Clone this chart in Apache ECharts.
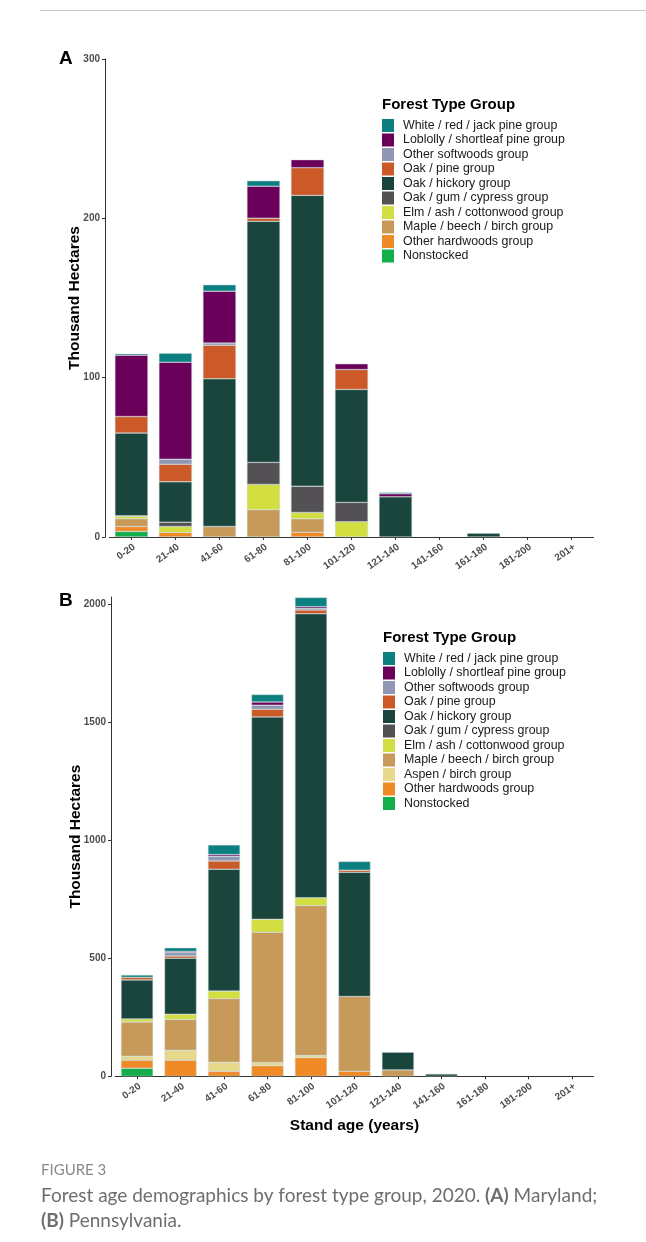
<!DOCTYPE html>
<html><head><meta charset="utf-8">
<script src="https://cdn.jsdelivr.net/npm/echarts@6/dist/echarts.min.js"></script>
<style>html,body{margin:0;padding:0;background:#fff}#c{width:646px;height:1242px}</style>
</head><body><div id="c"></div>
<script>
// ---------- DATA ----------
const categories = ['0-20','21-40','41-60','61-80','81-100','101-120','121-140','141-160','161-180','181-200','201+'];
const yTicksA = [0, 100, 200, 300];
const yTicksB = [0, 500, 1000, 1500, 2000];

// stacking order, bottom to top
const groupNames = [
  'Nonstocked',
  'Other hardwoods group',
  'Aspen / birch group',
  'Maple / beech / birch group',
  'Elm / ash / cottonwood group',
  'Oak / gum / cypress group',
  'Oak / hickory group',
  'Oak / pine group',
  'Other softwoods group',
  'Loblolly / shortleaf pine group',
  'White / red / jack pine group'
];

// (A) Maryland, thousand hectares
const mdNonstocked      = [3.5, 0,    0,    0,     0,     0,    0,    0, 0,   0, 0];
const mdOtherHardwoods  = [3.1, 2.8,  0,    0,     3.0,   0,    0,    0, 0,   0, 0];
const mdAspen           = [0,   0,    0,    0,     0,     0,    0,    0, 0,   0, 0];
const mdMaple           = [4.8, 0,    6.6,  17.1,  8.4,   0,    0,    0, 0,   0, 0];
const mdElm             = [1.7, 3.8,  0,    15.9,  4.0,   9.5,  0,    0, 0,   0, 0];
const mdOakGum          = [0.3, 2.7,  0,    13.8,  16.5,  12.2, 0,    0, 0,   0, 0];
const mdOakHickory      = [51.8,25.3, 92.7, 151.3, 182.5, 70.9, 25.2, 0, 2.4, 0, 0];
const mdOakPine         = [10.4,11.1, 21.1, 2.0,   17.4,  12.5, 0,    0, 0,   0, 0];
const mdOtherSoftwoods  = [0,   3.1,  1.3,  0,     0,     0,    0,    0, 0,   0, 0];
const mdLoblolly        = [38.5,60.9, 32.6, 20.1,  5.0,   3.6,  1.9,  0, 0,   0, 0];
const mdWhitePine       = [0.9, 5.7,  4.0,  3.4,   0,     0,    0.8,  0, 0,   0, 0];

// (B) Pennsylvania, thousand hectares
const paNonstocked      = [34,  0,    0,    0,    0,    0,   0,  0,  0, 0, 0];
const paOtherHardwoods  = [34,  68,   21,   45,   79,   21,  0,  0,  0, 0, 0];
const paAspen           = [17,  42,   38,   13,   9,    0,   0,  0,  0, 0, 0];
const paMaple           = [145, 131,  270,  552,  635,  317, 27, 0,  0, 0, 0];
const paElm             = [13,  22,   32,   55,   33,   0,   0,  0,  0, 0, 0];
const paOakGum          = [0,   0,    0,    0,    0,    0,   0,  0,  0, 0, 0];
const paOakHickory      = [165, 237,  516,  857,  1203, 526, 75, 10, 0, 0, 0];
const paOakPine         = [11,  9,    35,   33,   16,   9,   0,  0,  0, 0, 0];
const paOtherSoftwoods  = [0,   15,   20,   17,   7,    0,   0,  0,  0, 0, 0];
const paLoblolly        = [0,   5,    7,    13,   7,    0,   0,  0,  0, 0, 0];
const paWhitePine       = [10,  15,   41,   32,   39,   37,  0,  0,  0, 0, 0];

const mdSeries = [mdNonstocked, mdOtherHardwoods, mdAspen, mdMaple, mdElm, mdOakGum, mdOakHickory, mdOakPine, mdOtherSoftwoods, mdLoblolly, mdWhitePine];
const paSeries = [paNonstocked, paOtherHardwoods, paAspen, paMaple, paElm, paOakGum, paOakHickory, paOakPine, paOtherSoftwoods, paLoblolly, paWhitePine];
const legendA = groupNames.filter(n => n !== 'Aspen / birch group').slice().reverse();
const legendB = groupNames.slice().reverse();

// ---------- STYLE ----------
const colors = {
  'Nonstocked': '#13ae4b',
  'Other hardwoods group': '#f08a26',
  'Aspen / birch group': '#e7d98a',
  'Maple / beech / birch group': '#c79a5a',
  'Elm / ash / cottonwood group': '#d3de41',
  'Oak / gum / cypress group': '#535153',
  'Oak / hickory group': '#19453c',
  'Oak / pine group': '#cc5a28',
  'Other softwoods group': '#8f97b4',
  'Loblolly / shortleaf pine group': '#6b005b',
  'White / red / jack pine group': '#0c8080'
};
const FONT = '"Liberation Sans", Arial, sans-serif';
const tickColor = '#4d4d4d';
const axisColor = '#333';

function yAxisCfg(gridIndex, max, ticks, offset, nameGap) {
  return {
    type: 'value', gridIndex, min: 0, max, offset,
    name: 'Thousand Hectares', nameLocation: 'middle', nameGap, nameMoveOverlap: false,
    nameTextStyle: {fontFamily: FONT, fontWeight: 'bold', fontSize: 15.5, color: '#000'},
    splitLine: {show: false},
    axisLine: {show: true, lineStyle: {color: axisColor, width: 1}},
    axisTick: {show: true, length: 3, lineStyle: {color: axisColor}, customValues: ticks},
    axisLabel: {fontFamily: FONT, fontWeight: 'bold', fontSize: 10, color: tickColor, margin: 5,
      customValues: ticks, formatter: v => String(v)}
  };
}
function xAxisCfg(gridIndex, extra) {
  return Object.assign({
    type: 'category', gridIndex, data: categories,
    axisLine: {show: true, lineStyle: {color: axisColor, width: 1}},
    axisTick: {show: true, alignWithLabel: true, length: 3, lineStyle: {color: axisColor}},
    axisLabel: {fontFamily: FONT, fontWeight: 'bold', fontSize: 10, color: tickColor, rotate: 35,
      align: 'right', verticalAlign: 'top', margin: 5, interval: 0}
  }, extra || {});
}

const series = [];
groupNames.forEach((name, i) => {
  const style = {color: colors[name], borderColor: 'rgba(200,215,215,0.9)', borderWidth: 0.5};
  if (name !== 'Aspen / birch group') {
    series.push({name, type: 'bar', stack: 'md', xAxisIndex: 0, yAxisIndex: 0, barWidth: 33,
      data: mdSeries[i].map(v => v === 0 ? null : v), itemStyle: style});
  }
  series.push({name, type: 'bar', stack: 'pa', xAxisIndex: 1, yAxisIndex: 1, barWidth: 32,
    data: paSeries[i].map(v => v === 0 ? null : v), itemStyle: style});
});

const legendCfg = (data, left, top) => ({
  orient: 'vertical', left, top, data, icon: 'rect', itemWidth: 12, itemHeight: 13, itemGap: 1.5,
  padding: 0, selectedMode: false, itemStyle: {borderWidth: 0},
  textStyle: {fontFamily: FONT, fontSize: 12.4, color: '#1a1a1a', lineHeight: 13, padding: [0, 0, 0, 4]}
});

const chart = echarts.init(document.getElementById('c'), null, {renderer: 'canvas'});
chart.setOption({
  animation: false,
  backgroundColor: '#fff',
  title: [
    {text: 'A', left: 59, top: 49, padding: 0, textStyle: {fontFamily: FONT, fontWeight: 'bold', fontSize: 19, color: '#000'}},
    {text: 'B', left: 59, top: 591, padding: 0, textStyle: {fontFamily: FONT, fontWeight: 'bold', fontSize: 19, color: '#000'}},
    {text: 'Forest Type Group', left: 382, top: 97.5, padding: 0, textStyle: {fontFamily: FONT, fontWeight: 'bold', fontSize: 15, color: '#000'}},
    {text: 'Forest Type Group', left: 383, top: 630, padding: 0, textStyle: {fontFamily: FONT, fontWeight: 'bold', fontSize: 15, color: '#000'}},
    {text: 'FIGURE 3', left: 41, top: 1163, padding: 0, textStyle: {fontFamily: 'Lato, sans-serif', fontWeight: 'normal', fontSize: 15, color: '#8a8a8a'}},
    {text: 'Forest age demographics by forest type group, 2020. {b|(A)} Maryland;\n{b|(B)} Pennsylvania.', left: 41, top: 1183, padding: 0,
      textStyle: {fontFamily: 'Lato, sans-serif', fontWeight: 'normal', fontSize: 19, color: '#6e6e6e', lineHeight: 25,
        rich: {b: {fontFamily: 'Lato, sans-serif', fontWeight: 'bold', fontSize: 19, color: '#6e6e6e', lineHeight: 25}}}}
  ],
  legend: [legendCfg(legendA, 382, 119), legendCfg(legendB, 383, 652)],
  grid: [
    {left: 109.4, right: 52.4, top: 59, bottom: 705, containLabel: false},
    {left: 115.3, right: 52.4, top: 597, bottom: 165.7, containLabel: false}
  ],
  xAxis: [
    xAxisCfg(0),
    xAxisCfg(1, {name: 'Stand age (years)', nameLocation: 'middle', nameGap: 41, nameMoveOverlap: false,
      nameTextStyle: {fontFamily: FONT, fontWeight: 'bold', fontSize: 15.5, color: '#000'}})
  ],
  yAxis: [
    yAxisCfg(0, 300, yTicksA, 4.4, 22),
    yAxisCfg(1, 2030, yTicksB, 4.3, 27.5)
  ],
  series,
  graphic: [
    {type: 'line', shape: {x1: 40, y1: 10.5, x2: 646, y2: 10.5}, style: {stroke: '#c8c8c8', lineWidth: 1}, silent: true}
  ]
});
</script></body></html>
